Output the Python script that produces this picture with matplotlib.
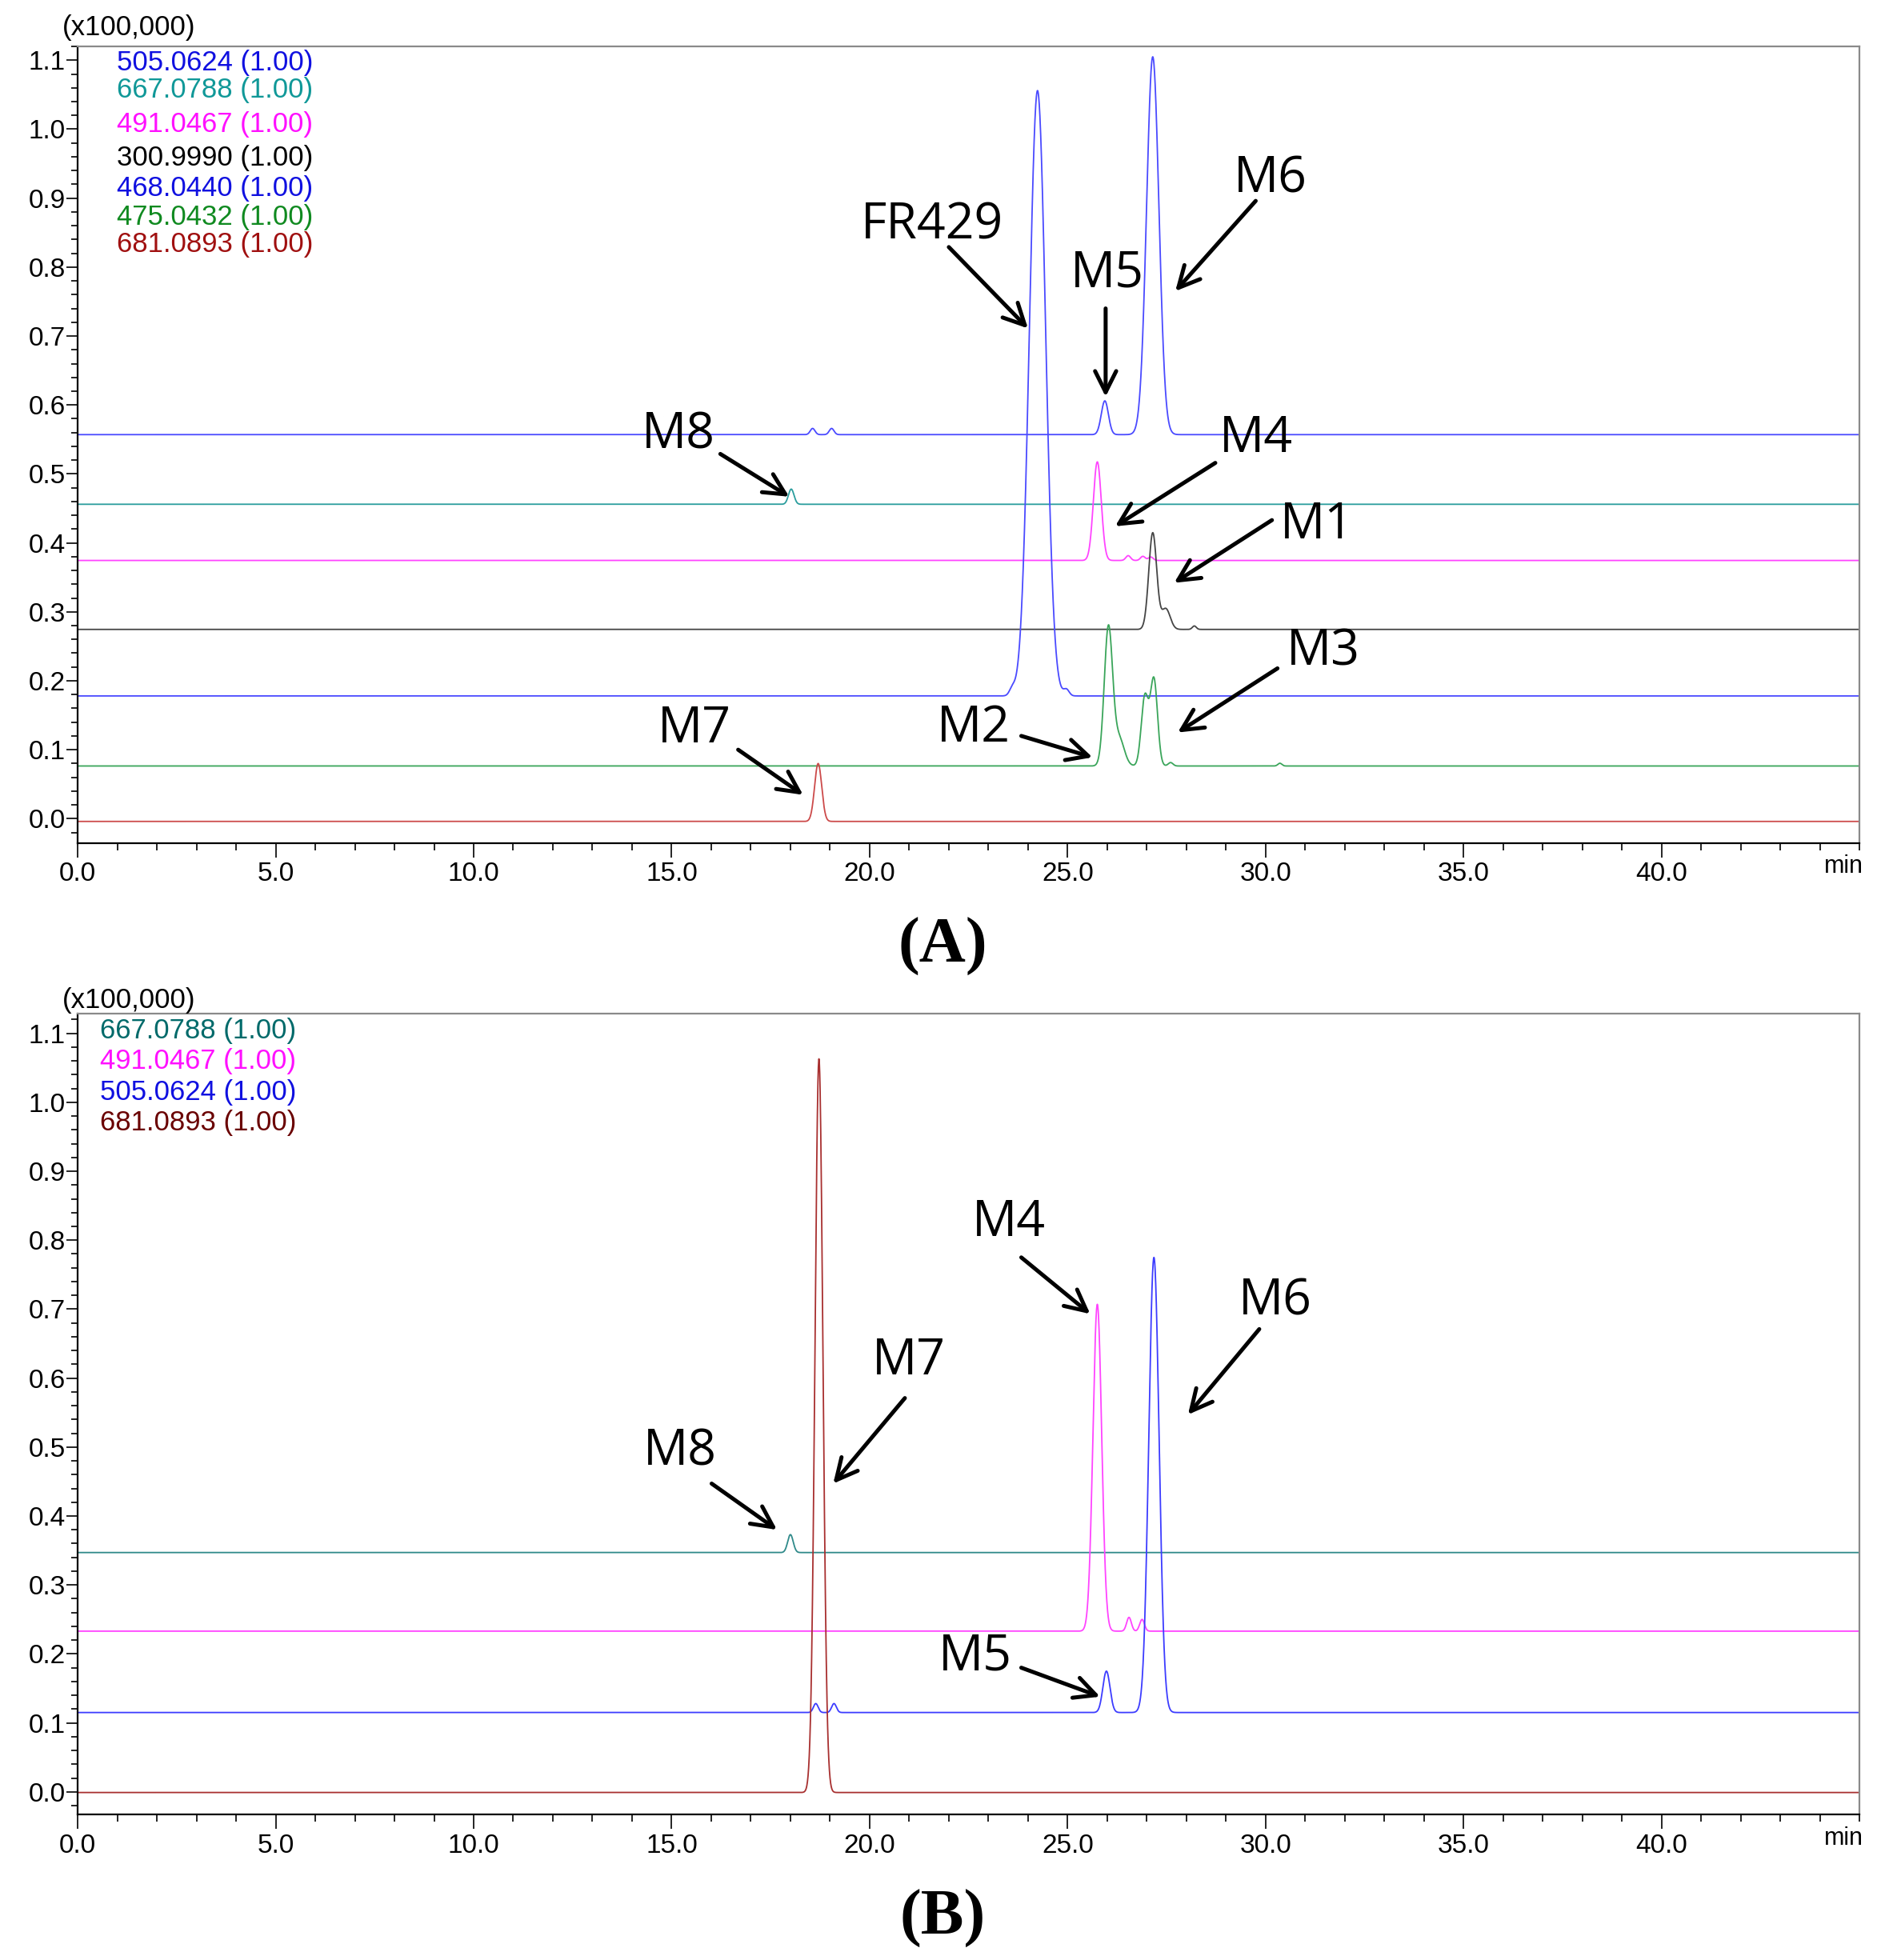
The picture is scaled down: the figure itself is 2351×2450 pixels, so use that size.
import numpy as np
import matplotlib.pyplot as plt
from matplotlib.ticker import MultipleLocator, FixedLocator, FormatStrFormatter

t = np.linspace(0, 45, 9001)

# ---- panel A : extracted ion chromatograms (intensity x100,000) ----
a_labels = ["505.0624 (1.00)", "667.0788 (1.00)", "491.0467 (1.00)", "300.9990 (1.00)",
            "468.0440 (1.00)", "475.0432 (1.00)", "681.0893 (1.00)"]
a_base = [0.557, 0.456, 0.3745, 0.2745, 0.178, 0.0764, -0.004]
a_rt = [[18.56, 19.04, 25.94, 27.15],
        [18.02],
        [25.75, 26.53, 26.9, 27.1],
        [27.15, 27.48, 28.2],
        [23.6, 24.24, 24.97],
        [26.03, 26.3, 26.95, 27.18, 27.6, 30.36],
        [18.7]]
a_h = [[0.009, 0.009, 0.049, 0.548],
       [0.022],
       [0.143, 0.007, 0.006, 0.005],
       [0.14, 0.03, 0.005],
       [0.009, 0.878, 0.009],
       [0.2, 0.04, 0.1, 0.125, 0.005, 0.004],
       [0.084]]
a_w = [[0.06, 0.06, 0.09, 0.155],
       [0.07],
       [0.1, 0.06, 0.06, 0.06],
       [0.1, 0.11, 0.05],
       [0.07, 0.205, 0.07],
       [0.105, 0.13, 0.09, 0.09, 0.06, 0.05],
       [0.09]]
a_text_col = ["#1010e0", "#109898", "#ff10ff", "#000000", "#1010e0", "#108a20", "#a01010"]
a_line_col = ["#4a4aff", "#2a9d9d", "#ff44ff", "#444444", "#4a4aff", "#3aa55a", "#cc4a4a"]
a_legend_y = [50, 72, 99, 126, 150, 173, 195]

# ---- panel B ----
b_labels = ["667.0788 (1.00)", "491.0467 (1.00)", "505.0624 (1.00)", "681.0893 (1.00)"]
b_base = [0.347, 0.233, 0.115, -0.001]
b_rt = [[18.0],
        [25.75, 26.55, 26.88],
        [18.64, 19.1, 25.98, 27.18],
        [18.72]]
b_h = [[0.026],
       [0.474, 0.02, 0.017],
       [0.013, 0.013, 0.06, 0.66],
       [1.064]]
b_w = [[0.07],
       [0.11, 0.06, 0.06],
       [0.06, 0.06, 0.09, 0.13],
       [0.1]]
b_text_col = ["#006a6a", "#ff10ff", "#1010e0", "#6a0000"]
b_line_col = ["#2f8a8a", "#ff44ff", "#3c3cff", "#a83030"]
b_legend_y = [822, 846, 871, 895]

x_major = [0, 5, 10, 15, 20, 25, 30, 35, 40]

# annotations: label, text pos, arrow start, arrow end (min, x100,000)
a_notes = [("FR429", (21.58, 0.86), (22.0, 0.829), (24.0, 0.711)),
           ("M5", (26.0, 0.79), (25.96, 0.74), (25.96, 0.612)),
           ("M6", (30.13, 0.927), (29.75, 0.896), (27.72, 0.765)),
           ("M8", (15.16, 0.556), (16.23, 0.529), (17.97, 0.467)),
           ("M4", (29.75, 0.551), (28.73, 0.516), (26.2, 0.424)),
           ("M1", (31.3, 0.425), (30.16, 0.433), (27.69, 0.342)),
           ("M3", (31.46, 0.242), (30.3, 0.218), (27.78, 0.125)),
           ("M2", (22.63, 0.131), (23.83, 0.12), (25.63, 0.089)),
           ("M7", (15.57, 0.129), (16.68, 0.1), (18.32, 0.0345))]
b_notes = [("M8", (15.22, 0.493), (16.01, 0.447), (17.66, 0.38)),
           ("M7", (20.98, 0.624), (20.89, 0.571), (19.08, 0.447)),
           ("M4", (23.51, 0.825), (23.83, 0.775), (25.57, 0.693)),
           ("M6", (30.25, 0.711), (29.84, 0.671), (28.04, 0.547)),
           ("M5", (22.66, 0.195), (23.83, 0.18), (25.82, 0.138))]


def trace(base, rts, hs, ws):
    y = np.full_like(t, base)
    for r, h, w in zip(rts, hs, ws):
        y += h * np.exp(-0.5 * ((t - r) / w) ** 2)
    return y


def style_axes(ax, ylim):
    ax.set_xlim(0, 45)
    ax.set_ylim(*ylim)
    ax.xaxis.set_major_locator(FixedLocator(x_major))
    ax.xaxis.set_minor_locator(MultipleLocator(1))
    ax.yaxis.set_major_locator(MultipleLocator(0.1))
    ax.yaxis.set_minor_locator(MultipleLocator(0.02))
    ax.xaxis.set_major_formatter(FormatStrFormatter("%.1f"))
    ax.yaxis.set_major_formatter(FormatStrFormatter("%.1f"))
    ax.tick_params(axis="x", which="major", length=13, width=1.2, pad=4, labelsize=24)
    ax.tick_params(axis="x", which="minor", length=6.5, width=1.2)
    ax.tick_params(axis="y", which="major", length=10, width=1.2, pad=1, labelsize=24)
    ax.tick_params(axis="y", which="minor", length=5.5, width=1.2)
    for s in ("left", "bottom"):
        ax.spines[s].set_linewidth(1.6)
        ax.spines[s].set_color("black")
    for s in ("top", "right"):
        ax.spines[s].set_linewidth(1.6)
        ax.spines[s].set_color("#8a8a8a")
    ax.text(0.991, -0.03, "min", transform=ax.transAxes,
            ha="center", va="center", fontsize=22)


def add_notes(ax, notes):
    for lab, tp, start, end in notes:
        ax.text(tp[0], tp[1], lab, ha="center", va="center", fontsize=45,
                family="Open Sans", color="black")
        ax.annotate("", xy=end, xytext=start,
                    arrowprops=dict(arrowstyle="->,head_length=0.5,head_width=0.25",
                                    mutation_scale=38, lw=3.6, color="black",
                                    shrinkA=0, shrinkB=0))


plt.rcParams['font.family'] = ['Liberation Sans', 'DejaVu Sans']
fig = plt.figure(figsize=(23.51, 24.5), dpi=100)

axA = fig.add_axes([0.0413, 0.5700, 0.9473, 0.4063])
for i in range(len(a_labels)):
    axA.plot(t, trace(a_base[i], a_rt[i], a_h[i], a_w[i]), color=a_line_col[i], lw=1.3)
    axA.text(0.0218, 1 - (a_legend_y[i] - 37) / 635, a_labels[i], transform=axA.transAxes,
             ha="left", va="center", fontsize=25, color=a_text_col[i])
style_axes(axA, (-0.035, 1.12))
add_notes(axA, a_notes)

axB = fig.add_axes([0.0413, 0.0742, 0.9473, 0.4088])
for i in range(len(b_labels)):
    axB.plot(t, trace(b_base[i], b_rt[i], b_h[i], b_w[i]), color=b_line_col[i], lw=1.3)
    axB.text(0.0127, 1 - (b_legend_y[i] - 808) / 639, b_labels[i], transform=axB.transAxes,
             ha="left", va="center", fontsize=25, color=b_text_col[i])
style_axes(axB, (-0.033, 1.129))
add_notes(axB, b_notes)

fig.text(0.0333, 0.986, "(x100,000)", ha="left", va="center", fontsize=25)
fig.text(0.0333, 0.4894, "(x100,000)", ha="left", va="center", fontsize=25)
fig.text(0.5013, 0.517, "(A)", ha="center", va="center", fontsize=58,
         family="Liberation Serif", fontweight="bold")
fig.text(0.5013, 0.021, "(B)", ha="center", va="center", fontsize=58,
         family="Liberation Serif", fontweight="bold")

fig.savefig("out.png", dpi=100)
